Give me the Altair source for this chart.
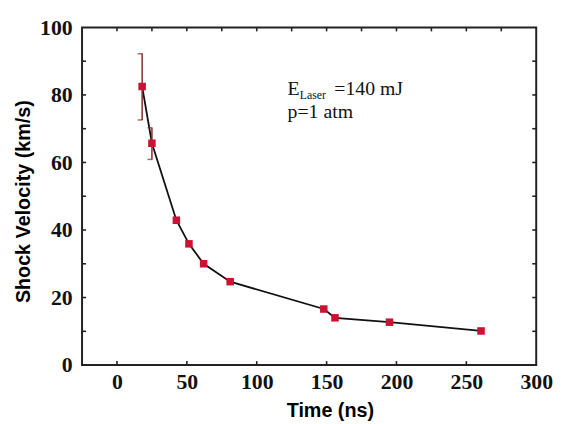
import altair as alt
import pandas as pd

# Data
time_ns = [18, 25, 42.5, 51.5, 62, 81, 148, 156, 195, 260.5]
velocity = [82.5, 65.7, 42.9, 35.9, 30.0, 24.7, 16.6, 14.0, 12.7, 10.1]

err_time = [18, 25]
err_low = [72.6, 60.9]
err_high = [92.2, 70.3]

x_tick_labels = [0, 50, 100, 150, 200, 250, 300]
y_tick_labels = [0, 20, 40, 60, 80, 100]
bottom_ticks = [0, 50, 100, 150, 200, 250]
top_ticks = [0, 25, 50, 75, 100, 125, 150, 175, 200, 225, 250, 275]
side_ticks = [10, 20, 30, 40, 50, 60, 70, 80, 90]

W, H = 460, 342
TL = 4  # inner tick length

df = pd.DataFrame({"t": time_ns, "v": velocity})
df_err = pd.DataFrame({"t": err_time, "lo": err_low, "hi": err_high})

xs = alt.Scale(domain=[-25, 300], nice=False, zero=False)
ys = alt.Scale(domain=[0, 100], nice=False, zero=False)

x_axis = alt.Axis(values=x_tick_labels, ticks=False, domain=False, grid=False,
                  labelFont="Liberation Serif", labelFontSize=22, labelFontWeight="bold",
                  labelColor="#111", labelPadding=7, labelFlush=False,
                  title="Time (ns)", titleFont="Liberation Sans", titleFontSize=20,
                  titleFontWeight="bold", titleColor="#000",
                  titleX=251, titleY=52, titleBaseline="alphabetic", titleAnchor="start",
                  titleAlign="center")
y_axis = alt.Axis(values=y_tick_labels, ticks=False, domain=False, grid=False,
                  labelFont="Liberation Serif", labelFontSize=22, labelFontWeight="bold",
                  labelColor="#111", labelPadding=10, labelFlush=False,
                  title="Shock Velocity (km/s)", titleFont="Liberation Sans", titleFontSize=20,
                  titleFontWeight="bold", titleColor="#000",
                  titleX=-53, titleY=176, titleBaseline="alphabetic", titleAlign="center",
                  titleAngle=270)

X = alt.X("t:Q", scale=xs, axis=x_axis)
Y = alt.Y("v:Q", scale=ys, axis=y_axis)

line = alt.Chart(df).mark_line(color="#111", strokeWidth=1.8).encode(x=X, y=Y)
pts = alt.Chart(df).mark_square(color="#cc1133", size=58, opacity=1).encode(x=X, y=Y)

err_rule = alt.Chart(df_err).mark_rule(color="#8a2a2a", strokeWidth=1.5).encode(
    x=alt.X("t:Q", scale=xs, axis=x_axis),
    y=alt.Y("lo:Q", scale=ys, axis=y_axis), y2="hi:Q")
cap_hi = alt.Chart(df_err).mark_tick(color="#8a2a2a", orient="horizontal", size=5,
                                     thickness=1.5, xOffset=-2).encode(
    x=alt.X("t:Q", scale=xs, axis=x_axis), y=alt.Y("hi:Q", scale=ys, axis=y_axis))
cap_lo = alt.Chart(df_err).mark_tick(color="#8a2a2a", orient="horizontal", size=5,
                                     thickness=1.5, xOffset=-2).encode(
    x=alt.X("t:Q", scale=xs, axis=x_axis), y=alt.Y("lo:Q", scale=ys, axis=y_axis))

df_bt = pd.DataFrame({"t": bottom_ticks})
df_tt = pd.DataFrame({"t": top_ticks})
df_st = pd.DataFrame({"v": side_ticks})

tick_style = dict(color="#222", strokeWidth=1.6)
bt = alt.Chart(df_bt).mark_rule(**tick_style).encode(
    x=alt.X("t:Q", scale=xs, axis=x_axis), y=alt.value(H), y2=alt.value(H - TL))
tt = alt.Chart(df_tt).mark_rule(**tick_style).encode(
    x=alt.X("t:Q", scale=xs, axis=x_axis), y=alt.value(0), y2=alt.value(TL))
lt = alt.Chart(df_st).mark_rule(**tick_style).encode(
    y=alt.Y("v:Q", scale=ys, axis=y_axis), x=alt.value(0), x2=alt.value(TL))
rt = alt.Chart(df_st).mark_rule(**tick_style).encode(
    y=alt.Y("v:Q", scale=ys, axis=y_axis), x=alt.value(W), x2=alt.value(W - TL))

# annotation
ann_main = pd.DataFrame({"t": [122.1, 155.5, 122.1], "v": [79.9, 79.9, 73.3],
                         "txt": ["E", "=140 mJ", "p=1 atm"]})
ann_sub = pd.DataFrame({"t": [130.8], "v": [78.9], "txt": ["Laser"]})
txt_main = alt.Chart(ann_main).mark_text(font="Liberation Serif", fontSize=20, align="left",
                                         baseline="alphabetic", color="#111").encode(
    x=alt.X("t:Q", scale=xs, axis=x_axis), y=alt.Y("v:Q", scale=ys, axis=y_axis), text="txt:N")
txt_sub = alt.Chart(ann_sub).mark_text(font="Liberation Serif", fontSize=12, align="left",
                                       baseline="alphabetic", color="#111").encode(
    x=alt.X("t:Q", scale=xs, axis=x_axis), y=alt.Y("v:Q", scale=ys, axis=y_axis), text="txt:N")

chart = alt.layer(bt, tt, lt, rt, line, err_rule, cap_hi, cap_lo, pts, txt_main, txt_sub).properties(
    width=W, height=H,
    autosize=alt.AutoSizeParams(type="none"),
    padding={"left": 75, "top": 17, "right": 17, "bottom": 55},
    background="white",
).configure_view(stroke="#222", strokeWidth=2)

chart.save("out.html", embed_options={"renderer": "svg", "actions": False})
